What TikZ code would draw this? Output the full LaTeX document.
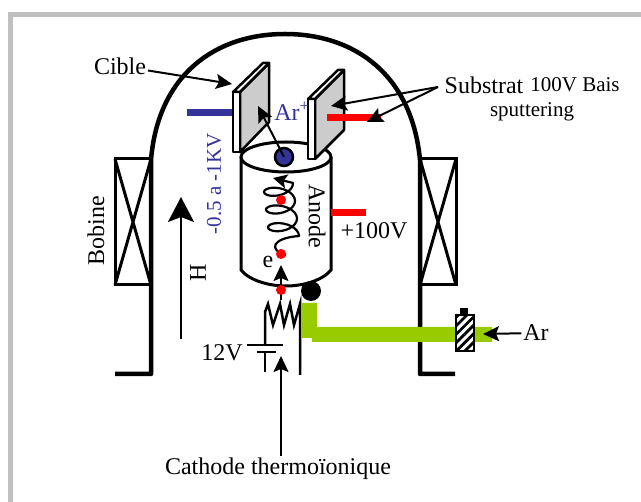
\documentclass[tikz,border=0pt]{standalone}
\usepackage{fontspec}
\setmainfont{Liberation Serif}
\usetikzlibrary{arrows.meta,patterns.meta}
\definecolor{framegray}{RGB}{192,192,192}
\definecolor{platgray}{RGB}{204,204,204}
\definecolor{arblue}{RGB}{51,51,153}
\definecolor{pipegreen}{RGB}{153,204,0}
\begin{document}
\begin{tikzpicture}[
  x=1pt,y=-1pt,
  every node/.style={inner sep=0pt,outer sep=2pt,font=\fontsize{24}{26}\selectfont},
  small/.style={font=\fontsize{21}{24}\selectfont},
  wire/.style={draw=black,line width=2.5pt},
  wall/.style={draw=black,line width=4.5pt,line join=round},
  coil/.style={draw=black,line width=3pt},
  plate/.style={draw=black,line width=2.5pt,line join=round},
  bar/.style={line width=7pt},
  arw/.style={-{Stealth[length=16pt,width=15pt,inset=3pt]},line width=2pt},
  bigarw/.style={-{Stealth[length=25pt,width=26pt,inset=5pt]},line width=2pt}
]
\useasboundingbox (0,0) rectangle (641,502);
\draw[framegray,line width=5pt] (10.5,502) -- (10.5,14.5) -- (641,14.5);

% enceinte et bobines
\draw[wall] (115,374) -- (151,374) -- (151,160) .. controls (158,75) and (215,34) .. (285,34)
  .. controls (355,34) and (412,75) .. (420,160) -- (420,374) -- (455,374);
\foreach \xa/\xb in {115/151,420/456} {
  \draw[coil] (\xa,159) rectangle (\xb,285);
  \draw[coil] (\xa,159) -- (\xb,285) (\xa,285) -- (\xb,159);
}

% anode
\draw[wire,line width=3pt] (241,157) -- (241,270) .. controls (250,281) and (270,286) .. (286,286)
  .. controls (302,286) and (322,281) .. (331,270) -- (331,157);
\draw[wire,line width=3pt,fill=white] (286,157) ellipse (45 and 15);
\draw[red,bar] (331,213) -- (366,213);

% spirale
\coordinate (spiraltip) at (273,178);
\draw[line width=2.2pt,line join=round,-{Stealth[length=14pt,width=14pt,inset=3pt]}]
  (286,255) .. controls (268,250) and (272,238) .. (299,236)
  -- plot[smooth,samples=73,domain=0:1080] ({284-\x/180+15*cos(\x)},{236-\x*0.0491-8*sin(\x)})
  -- (spiraltip);
\fill[red] (281,200) circle (5);
\fill[red] (281,254) circle (5);

% cibles
\fill[pipegreen] (302,303) -- (317,303) -- (317,327) -- (492,327) -- (492,342) -- (312,342) -- (312,338) -- (302,338) -- cycle;
\draw[arblue,bar] (187,113) -- (233,113);
\draw[plate,fill=platgray] (240,92) -- (269,63) -- (269,122) -- (240,152) -- cycle;
\draw[plate,fill=white] (233,92) -- (240,92) -- (240,152) -- (233,152) -- cycle;
\draw[plate,fill=white] (233,92) -- (263,63) -- (269,63) -- (240,92) -- cycle;
\draw[plate,fill=platgray] (315,99) -- (344,70) -- (344,130) -- (315,159) -- cycle;
\draw[plate,fill=white] (308,99) -- (315,99) -- (315,159) -- (308,159) -- cycle;
\draw[plate,fill=white] (308,99) -- (338,70) -- (344,70) -- (315,99) -- cycle;
\draw[red,bar] (327,118) -- (381,118);

\draw[wire,fill=arblue] (284,157) circle (9);
\coordinate (arstart) at (284,157);
\coordinate (artip) at (258,106);
\draw[arw] (arstart) -- (artip);

% filament et batterie
\fill[black] (311,291) circle (10);
\coordinate (fila) at (281,300);
\coordinate (filb) at (281,265);
\draw[arw] (fila) -- (filb);
\fill[red] (281,290) circle (5);
\draw[wire] (265,345) -- (265,312) -- (268,304) -- (273,325) -- (280,304) -- (284,325) -- (290,304) -- (294,325) -- (300,304) -- (300,375);
\draw[wire] (247,345) -- (283,345);
\draw[wire] (257,352) -- (276,352);
\draw[wire] (265,352) -- (265,372);

% vanne
\fill[white] (456,315) rectangle (474,351);
\draw[line width=2.5pt,pattern={Lines[angle=45,distance=6pt,line width=2.8pt]}] (456,315) rectangle (474,351);
\fill[black] (460,308) rectangle (468,315);

% textes
\node (cible) at (120,66) {Cible};
\coordinate (cibletip) at (232,84);
\draw[arw] (cible) -- (cibletip);
\node[arblue] (arplus) at (292,111) {Ar\textsuperscript{+}};
\node[arblue,rotate=90,small] (tension) at (214,184) {-0.5 a -1KV};
\node[rotate=-90] (anode) at (317,216) {Anode};
\node (cent) at (374,231) {+100V};
\node (e) at (268,262) {e};
\node[rotate=90] (bobine) at (96,231) {Bobine};
\node[rotate=90] (hfield) at (198,273) {H};
\node (douze) at (222,353) {12V};
\node (ar) at (536,333) {Ar};
\node (substrat) at (484,85) {Substrat};
\node[small] (bais) at (575,85) {100V Bais};
\node[small] (sputter) at (532,112) {sputtering};
\node (cathode) at (278,456) [anchor=north] {Cathode thermoïonique};

\coordinate (hfrom) at (181,339);
\coordinate (hto) at (181,197);
\draw[bigarw] (hfrom) -- (hto);
\coordinate (subfrom) at (438,87);
\coordinate (subtipa) at (331,106);
\coordinate (subtipb) at (367,122);
\draw[arw] (subfrom) -- (subtipa);
\draw[arw] (subfrom) -- (subtipb);
\coordinate (artail) at (483,334);
\draw[arw] (ar) -- (artail);
\coordinate (cathtip) at (281,356);
\draw[arw] (cathtip |- cathode.north) -- (cathtip);
\end{tikzpicture}
\end{document}
